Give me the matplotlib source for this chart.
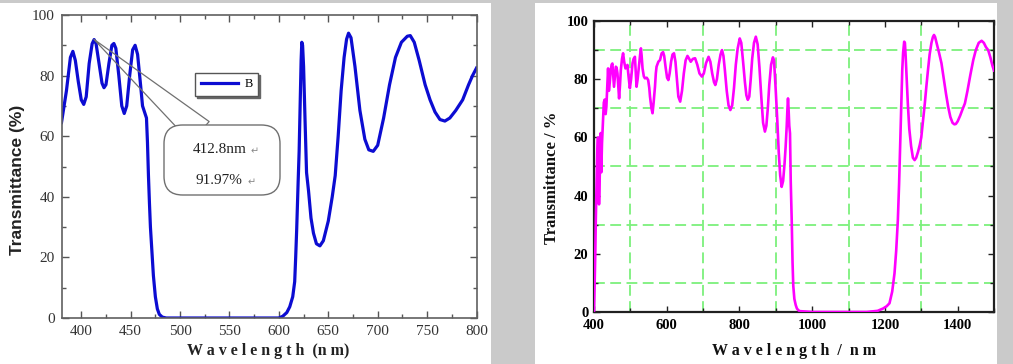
import matplotlib
matplotlib.use("Agg")
import matplotlib.pyplot as plt
from matplotlib.patches import Rectangle, FancyBboxPatch
from matplotlib.ticker import MultipleLocator

# ---------------- data ----------------
wl_b = [380, 385, 389, 391.5, 394, 397, 400, 402.5, 405, 408, 411, 413, 415, 418, 421, 423,
        425, 428, 431, 433, 435, 438, 441, 443.5, 446, 449, 452, 454.5, 457, 460, 462, 464,
        466, 467, 468, 469, 470, 471.5, 473, 475, 477, 479, 482, 486, 600, 604, 608, 611,
        614, 616, 617, 618, 619.5, 620.5, 621.5, 622.5, 623.2, 624, 625, 626.5, 628, 630,
        632.5, 635, 638, 641.5, 645, 650, 654, 657, 660, 663, 666, 668.5, 670.5, 673, 677,
        682, 687, 691, 695.5, 700, 706, 712, 718, 724, 730, 733, 737, 742, 748, 753, 758,
        763, 768, 773, 779, 786, 792, 796, 800]
t_b = [64.5, 75, 86, 88, 85, 78, 72, 70.5, 73, 84, 90.5, 91.9, 90.5, 84, 77.5, 76,
       77, 84, 90, 90.6, 89, 80, 70, 67.5, 70, 80, 88.5, 90, 87, 77, 70, 68,
       66, 58, 47, 38, 30, 22, 14, 7, 3, 1.2, 0.3, 0, 0, 0.6, 1.8, 3.7,
       7, 12, 20, 29, 45, 55, 70, 85, 91, 90, 83, 65, 48, 42,
       33, 28, 24.5, 23.8, 25.5, 32, 40, 47, 60, 75, 86, 92, 94, 92.5, 83,
       68.5, 59, 55.5, 55, 57, 66, 77, 86, 91, 93, 93.2, 91, 85, 77, 72, 68,
       65.5, 65, 66, 68.5, 72, 77, 80, 82.5]

wl_m = [400, 401.5, 403.5, 405, 406.5, 409, 411, 412.5, 413.8, 415.5, 418.5, 420, 422, 425,
        427, 429.5, 432, 434, 436.5, 438.7, 441, 443.5, 446, 448.5, 450.6, 453, 455, 457.5,
        460, 462, 464.5, 467, 469, 471.5, 473.7, 477, 480, 483, 486.5, 489, 492, 495, 498.6,
        502, 506, 509, 512.5, 515, 517, 520, 523.5, 526.5, 529, 531, 533.5, 537, 540, 545,
        549, 552, 554, 558, 561, 564, 567.7, 570, 572, 577, 581.6, 586, 590, 593, 597, 601,
        604.5, 608, 612, 616, 620, 624, 628, 632, 637, 642, 647, 652, 657, 661, 666, 672,
        678, 684, 690, 696.7, 702, 708, 715, 720, 725, 730, 733.6, 738, 743, 748, 752, 756,
        760, 765, 770, 775, 780, 785, 790, 795, 800.8, 805, 810, 815, 819, 823, 827, 831,
        835, 840, 845, 850, 855, 860, 865, 870, 874, 878, 882, 887, 892, 895, 899, 904, 908,
        912, 916, 920, 924, 927, 930, 932, 933.5, 935, 937, 939, 941, 943.7, 946, 948, 951,
        954.7, 958, 962, 966, 1000, 1150, 1180, 1195, 1205, 1212.6, 1220, 1226.4, 1231,
        1235.6, 1239, 1242, 1245, 1247.7, 1250, 1253, 1255, 1257, 1260, 1263, 1267, 1272,
        1277, 1281.7, 1286, 1291, 1296, 1300, 1305, 1310, 1314, 1318.5, 1323, 1328, 1332,
        1335, 1338, 1343, 1349, 1355.5, 1362, 1368, 1374, 1380, 1386, 1391, 1395, 1400,
        1407, 1413, 1420, 1427, 1435, 1443, 1450, 1458, 1466, 1472, 1478, 1484, 1490, 1496,
        1500]
t_m = [0.5, 8, 20, 32, 41, 55, 60, 50, 37, 45, 61.5, 48, 58, 66,
       72, 73, 68, 70.5, 78, 83.7, 76, 79, 83, 85, 85.4, 81, 77.4, 81,
       84.3, 84, 82, 77, 73.4, 78, 83, 87, 88.9, 86, 83.7, 84, 84.9, 81, 76.9,
       80, 85.5, 87, 87.7, 82, 77.4, 80, 84.3, 88, 90.6, 88, 83.7, 81, 80.3, 80.5,
       79.7, 77, 74, 70, 68.3, 72, 77.4, 82, 84.3, 86, 86.6, 88.9, 89.3, 88, 84, 80.5,
       79.7, 82, 86, 88.5, 88.9, 86, 80, 74, 72.3, 76, 82, 86.5, 88, 87.2, 86, 87,
       87.2, 85, 82, 80.9, 82, 85.5, 87.7, 86, 82, 79, 78, 80, 85, 88.5, 90, 88,
       83, 76, 71, 69.4, 71, 77, 85, 90.5, 94, 92.5, 86, 79, 74.5, 72.9, 74, 80,
       87, 92.5, 94.6, 92, 84, 74, 65, 62, 64, 70, 78, 85, 87.5, 86.5, 78, 66, 55,
       47, 43, 45, 51, 56.8, 64, 70, 73.4, 70, 64, 61.4, 45, 31.6, 17, 9, 4.5,
       2.4, 1.2, 0.6, 0.3, 0, 0, 0.4, 1.2, 2, 3, 7, 13.3, 21,
       31.6, 44, 58, 72, 83.2, 89, 92.9, 92.5, 88, 80, 71.7, 63, 57,
       53, 52.2, 53, 55, 57.5, 60, 66, 72, 77.5, 83.2, 88.5, 92.5, 94.5,
       95.2, 94.5, 92, 89, 85.5, 80, 75, 70.5, 67, 65, 64.5, 64.6, 65.5,
       67.5, 69.5, 71.7, 76, 81.5, 86.6, 90, 92.5, 93.2, 92.5, 91, 90, 87.5, 84.5,
       83]

left_xticks = [400, 450, 500, 550, 600, 650, 700, 750, 800]
left_yticks = [0, 20, 40, 60, 80, 100]
right_xticks = [400, 600, 800, 1000, 1200, 1400]
right_yticks = [0, 20, 40, 60, 80, 100]
peak_wl, peak_t = 412.8, 91.97
legend_label = "B"

SERIF = ["Liberation Serif", "DejaVu Serif"]
SANS = ["Liberation Sans", "DejaVu Sans"]

W, H = 1013, 364
fig = plt.figure(figsize=(W / 100, H / 100), dpi=100)
fig.patch.set_facecolor("#cacaca")

def px_rect(x0, y0, x1, y1, color):
    fig.add_artist(Rectangle((x0 / W, 1 - y1 / H), (x1 - x0) / W, (y1 - y0) / H,
                             transform=fig.transFigure, facecolor=color,
                             edgecolor="none", zorder=-10))

px_rect(0, 3, 491, 364, "white")
px_rect(535, 3, 997, 364, "white")

def axes_px(x0, y0, x1, y1):
    return fig.add_axes([x0 / W, 1 - y1 / H, (x1 - x0) / W, (y1 - y0) / H])

# ---------------- left chart ----------------
L_X0, L_X1, L_Y0, L_Y1 = 61.5, 476.5, 15, 318
ax1 = axes_px(L_X0, L_Y0, L_X1, L_Y1)
ax1.set_facecolor("none")
ax1.plot(wl_b, t_b, color="#0c0cd2", lw=2.3, label=legend_label, solid_joinstyle="round",
         zorder=2)
ax1.set_xlim(380, 800)
ax1.set_ylim(0, 100)
ax1.set_xticks(left_xticks)
ax1.set_yticks(left_yticks)
ax1.xaxis.set_minor_locator(MultipleLocator(25))
ax1.yaxis.set_minor_locator(MultipleLocator(10))
ax1.tick_params(which="both", direction="in", top=True, right=True, color="#555555",
                labelcolor="#333333", labelsize=11, pad=5)
ax1.tick_params(which="major", length=5, width=1)
ax1.tick_params(which="minor", length=3, width=1)
for s in ax1.spines.values():
    s.set_color("#606060")
    s.set_linewidth(1.2)
for lab in ax1.get_xticklabels() + ax1.get_yticklabels():
    lab.set_family(SERIF)

leg = ax1.legend(loc="upper left", bbox_to_anchor=(0.322, 0.81), frameon=True,
                 fancybox=False,
                 shadow={"color": "#666666", "alpha": 1.0, "ox": 1.5, "oy": -1.5},
                 prop={"family": SERIF, "size": 9},
                 handlelength=3.0, borderpad=0.45, handletextpad=0.5, borderaxespad=0)
leg.get_frame().set_edgecolor("#555555")
leg.get_frame().set_linewidth(1.0)

def afrac(px, py):
    return ((px - L_X0) / (L_X1 - L_X0), (L_Y1 - py) / (L_Y1 - L_Y0))

# callout: wedge pointer + rounded box + text
ax1.annotate("", xy=(peak_wl, peak_t), xytext=afrac(200, 132), textcoords="axes fraction",
             arrowprops=dict(arrowstyle="wedge,tail_width=1.0,shrink_factor=0.5",
                             facecolor="none", edgecolor="#707070", linewidth=0.9,
                             mutation_scale=20, shrinkA=0, shrinkB=0),
             zorder=3)
bx0, by0 = afrac(164, 195)
bx1, by1 = afrac(280, 125)
box = FancyBboxPatch((bx0, by0), bx1 - bx0, by1 - by0,
                     boxstyle="round,pad=0,rounding_size=0.045", transform=ax1.transAxes,
                     facecolor="white", edgecolor="#707070", linewidth=1.0, zorder=4,
                     mutation_aspect=(L_X1 - L_X0) / (L_Y1 - L_Y0))
ax1.add_patch(box)
tx, ty = afrac(193, 150)
ax1.text(tx, ty, f"{peak_wl}nm", transform=ax1.transAxes, ha="left", va="center",
         fontsize=11, family=SERIF, color="#222222", zorder=5)
ax1.text(*afrac(251, 151), "\u21b5", transform=ax1.transAxes, ha="left", va="center",
         fontsize=7, family=["DejaVu Sans"], color="#888888", zorder=5)
tx, ty = afrac(195, 181)
ax1.text(tx, ty, f"{peak_t}%", transform=ax1.transAxes, ha="left", va="center",
         fontsize=11, family=SERIF, color="#222222", zorder=5)
ax1.text(*afrac(248, 182), "\u21b5", transform=ax1.transAxes, ha="left", va="center",
         fontsize=7, family=["DejaVu Sans"], color="#888888", zorder=5)

fig.text(18 / W, 1 - 180 / H, "Transmittance (%)", rotation=90, ha="center", va="center",
         family=SANS, fontweight="bold", fontsize=12.5, color="#222222")
fig.text(268 / W, 1 - 351 / H, "W a v e l e n g t h  (n m)", ha="center", va="center",
         family=SERIF, fontweight="bold", fontsize=11.5, color="#222222")

# ---------------- right chart ----------------
ax2 = axes_px(594, 21, 994, 312)
ax2.set_facecolor("none")
ax2.set_xlim(400, 1500)
ax2.set_ylim(0, 100)
ax2.set_xticks(right_xticks)
ax2.set_yticks(right_yticks)
ax2.xaxis.set_minor_locator(MultipleLocator(100))
ax2.yaxis.set_minor_locator(MultipleLocator(10))
ax2.grid(which="minor", color="#7cf07c", linestyle=(0, (6, 3)), linewidth=1.3)
ax2.grid(which="major", visible=False)
ax2.set_axisbelow(True)
ax2.plot(wl_m, t_m, color="#ff00ff", lw=1.9, solid_joinstyle="round", zorder=3)
ax2.tick_params(which="both", direction="in", top=True, right=True, color="#222222",
                labelsize=10.5)
ax2.tick_params(axis="x", pad=5)
ax2.tick_params(axis="y", pad=4)
ax2.tick_params(which="major", length=4, width=1)
ax2.tick_params(which="minor", length=3, width=1)
for s in ax2.spines.values():
    s.set_color("#202020")
    s.set_linewidth(1.6)
for lab in ax2.get_xticklabels() + ax2.get_yticklabels():
    lab.set_family(SERIF)
    lab.set_fontweight("bold")

fig.text(552 / W, 1 - 178 / H, "Transmittance / %", rotation=90, ha="center", va="center",
         family=SERIF, fontweight="bold", fontsize=12, color="#111111")
fig.text(794 / W, 1 - 351 / H, "W a v e l e n g t h  /  n m", ha="center", va="center",
         family=SERIF, fontweight="bold", fontsize=11.5, color="#111111")

fig.savefig("out.png", dpi=100, facecolor=fig.get_facecolor())
